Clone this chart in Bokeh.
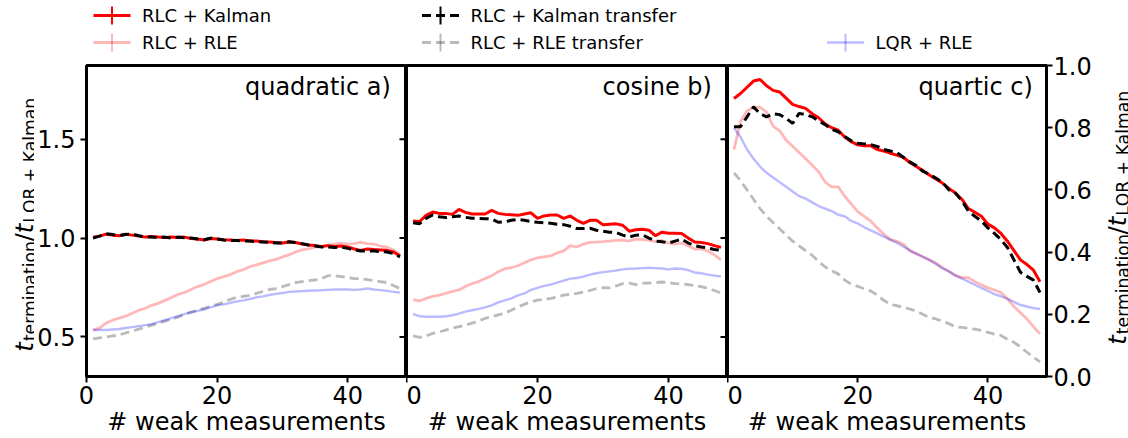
from bokeh.plotting import figure
from bokeh.layouts import row, column
from bokeh.models import Range1d, FixedTicker, Label, PrintfTickFormatter
from bokeh.core.properties import value
from bokeh.embed import file_html
from bokeh.resources import INLINE
import math

# ---------------- data ----------------
n_weak = list(range(1, 49))

quad_rlc_kalman = [1.005, 1.01, 1.02, 1.015, 1.012, 1.02, 1.015, 1.01, 1.005, 1.008, 1.005, 1.003, 1.005, 1.003, 1.005, 0.998,
                   0.995, 0.99, 0.998, 0.995, 0.992, 0.99, 0.988, 0.99, 0.985, 0.985, 0.982, 0.98, 0.978, 0.975, 0.98, 0.978,
                   0.97, 0.965, 0.962, 0.958, 0.962, 0.958, 0.96, 0.955, 0.945, 0.938, 0.945, 0.942, 0.94, 0.938, 0.93, 0.91]
quad_rlc_rle = [0.535, 0.545, 0.57, 0.585, 0.595, 0.605, 0.62, 0.635, 0.645, 0.66, 0.67, 0.685, 0.7, 0.715, 0.725, 0.74,
                0.755, 0.765, 0.78, 0.795, 0.805, 0.815, 0.83, 0.84, 0.855, 0.865, 0.875, 0.885, 0.892, 0.905, 0.915, 0.93,
                0.94, 0.945, 0.955, 0.958, 0.965, 0.97, 0.975, 0.97, 0.972, 0.978, 0.972, 0.97, 0.96, 0.955, 0.94, 0.915]
quad_kalman_transfer = [1.0, 1.01, 1.022, 1.018, 1.012, 1.018, 1.02, 1.012, 1.005, 1.005, 1.003, 1.005, 1.0, 1.005, 1.002, 1.0,
                        0.995, 0.992, 1.0, 0.995, 0.99, 0.988, 0.988, 0.985, 0.985, 0.982, 0.98, 0.978, 0.975, 0.975, 0.982, 0.978,
                        0.972, 0.965, 0.96, 0.955, 0.955, 0.952, 0.955, 0.948, 0.94, 0.935, 0.935, 0.935, 0.932, 0.93, 0.922, 0.905]
quad_rle_transfer = [0.49, 0.495, 0.5, 0.505, 0.51, 0.52, 0.53, 0.54, 0.55, 0.56, 0.57, 0.58, 0.59, 0.6, 0.615, 0.625,
                     0.635, 0.645, 0.655, 0.665, 0.675, 0.69, 0.7, 0.705, 0.71, 0.72, 0.73, 0.74, 0.745, 0.755, 0.765, 0.775,
                     0.78, 0.785, 0.788, 0.795, 0.81, 0.81, 0.805, 0.8, 0.795, 0.795, 0.79, 0.785, 0.78, 0.775, 0.76, 0.745]
quad_lqr_rle = [0.535, 0.535, 0.535, 0.538, 0.54, 0.545, 0.55, 0.555, 0.56, 0.565, 0.575, 0.585, 0.595, 0.605, 0.615, 0.625,
                0.632, 0.64, 0.65, 0.66, 0.665, 0.672, 0.68, 0.685, 0.692, 0.7, 0.705, 0.712, 0.718, 0.722, 0.728, 0.73,
                0.732, 0.734, 0.735, 0.736, 0.738, 0.74, 0.74, 0.74, 0.738, 0.74, 0.745, 0.74, 0.737, 0.733, 0.728, 0.724]

cos_rlc_kalman = [1.087, 1.084, 1.115, 1.132, 1.125, 1.125, 1.12, 1.145, 1.13, 1.122, 1.122, 1.122, 1.14, 1.125, 1.12, 1.118,
                  1.115, 1.122, 1.128, 1.1, 1.112, 1.117, 1.117, 1.1, 1.112, 1.09, 1.075, 1.09, 1.09, 1.068, 1.07, 1.072,
                  1.065, 1.035, 1.042, 1.045, 1.04, 1.012, 1.03, 1.025, 1.025, 1.023, 1.0, 0.98, 0.978, 0.972, 0.962, 0.953]
cos_rlc_rle = [0.689, 0.682, 0.695, 0.705, 0.712, 0.72, 0.73, 0.738, 0.755, 0.77, 0.78, 0.795, 0.81, 0.83, 0.845, 0.85,
               0.86, 0.875, 0.89, 0.9, 0.905, 0.91, 0.925, 0.935, 0.962, 0.955, 0.97, 0.978, 0.98, 0.982, 0.985, 0.988,
               0.99, 0.985, 0.995, 0.993, 0.99, 0.982, 0.988, 0.975, 0.97, 0.975, 0.96, 0.945, 0.945, 0.935, 0.915, 0.89]
cos_kalman_transfer = [1.078, 1.073, 1.1, 1.117, 1.108, 1.104, 1.108, 1.112, 1.105, 1.1, 1.1, 1.098, 1.097, 1.08, 1.082, 1.09,
                       1.095, 1.09, 1.084, 1.08, 1.078, 1.075, 1.07, 1.068, 1.06, 1.048, 1.048, 1.05, 1.04, 1.035, 1.03, 1.028,
                       1.015, 1.005, 1.015, 1.017, 1.0, 0.985, 0.982, 0.975, 0.985, 0.995, 0.975, 0.962, 0.955, 0.95, 0.942, 0.938]
cos_rle_transfer = [0.505, 0.498, 0.505, 0.518, 0.525, 0.535, 0.545, 0.552, 0.56, 0.57, 0.58, 0.594, 0.602, 0.612, 0.62, 0.635,
                    0.652, 0.665, 0.678, 0.686, 0.69, 0.695, 0.702, 0.712, 0.716, 0.72, 0.727, 0.735, 0.745, 0.75, 0.748, 0.758,
                    0.77, 0.772, 0.765, 0.772, 0.772, 0.775, 0.778, 0.775, 0.77, 0.768, 0.765, 0.76, 0.755, 0.745, 0.735, 0.722]
cos_lqr_rle = [0.615, 0.605, 0.602, 0.602, 0.602, 0.605, 0.61, 0.618, 0.628, 0.635, 0.642, 0.65, 0.66, 0.675, 0.685, 0.695,
               0.71, 0.72, 0.738, 0.748, 0.758, 0.765, 0.775, 0.785, 0.795, 0.798, 0.805, 0.815, 0.822, 0.828, 0.832, 0.836,
               0.842, 0.845, 0.846, 0.848, 0.85, 0.848, 0.846, 0.842, 0.846, 0.845, 0.838, 0.826, 0.822, 0.815, 0.81, 0.806]

quart_rlc_kalman = [0.894, 0.91, 0.93, 0.95, 0.955, 0.935, 0.92, 0.915, 0.895, 0.875, 0.868, 0.862, 0.845, 0.832, 0.812, 0.8,
                    0.792, 0.77, 0.755, 0.745, 0.742, 0.742, 0.73, 0.725, 0.718, 0.712, 0.705, 0.688, 0.675, 0.662, 0.648, 0.635,
                    0.622, 0.605, 0.59, 0.57, 0.54, 0.528, 0.515, 0.49, 0.478, 0.46, 0.435, 0.405, 0.375, 0.36, 0.342, 0.305]
quart_rlc_rle = [0.73, 0.82, 0.855, 0.864, 0.866, 0.85, 0.805, 0.79, 0.76, 0.74, 0.72, 0.7, 0.68, 0.658, 0.625, 0.61,
                 0.61, 0.58, 0.555, 0.53, 0.515, 0.5, 0.478, 0.458, 0.44, 0.435, 0.425, 0.405, 0.395, 0.385, 0.375, 0.365,
                 0.35, 0.338, 0.325, 0.318, 0.318, 0.305, 0.295, 0.285, 0.278, 0.27, 0.25, 0.225, 0.205, 0.185, 0.16, 0.137]
quart_kalman_transfer = [0.803, 0.803, 0.835, 0.867, 0.845, 0.835, 0.845, 0.842, 0.83, 0.814, 0.846, 0.842, 0.835, 0.822, 0.81, 0.795,
                         0.787, 0.772, 0.758, 0.75, 0.748, 0.745, 0.74, 0.73, 0.725, 0.72, 0.705, 0.69, 0.678, 0.66, 0.65, 0.638,
                         0.625, 0.6, 0.59, 0.565, 0.532, 0.515, 0.5, 0.478, 0.46, 0.44, 0.415, 0.375, 0.335, 0.322, 0.31, 0.27]
quart_rle_transfer = [0.655, 0.63, 0.6, 0.57, 0.54, 0.515, 0.495, 0.475, 0.455, 0.435, 0.42, 0.405, 0.39, 0.37, 0.352, 0.34,
                      0.33, 0.31, 0.297, 0.29, 0.282, 0.275, 0.262, 0.245, 0.232, 0.228, 0.222, 0.217, 0.21, 0.2, 0.19, 0.185,
                      0.178, 0.17, 0.16, 0.158, 0.155, 0.152, 0.148, 0.142, 0.136, 0.132, 0.12, 0.11, 0.095, 0.078, 0.062, 0.047]
quart_lqr_rle = [0.8, 0.77, 0.73, 0.7, 0.675, 0.655, 0.64, 0.625, 0.61, 0.595, 0.58, 0.572, 0.56, 0.548, 0.54, 0.532,
                 0.52, 0.515, 0.5, 0.492, 0.48, 0.47, 0.46, 0.45, 0.44, 0.43, 0.418, 0.405, 0.395, 0.385, 0.375, 0.362,
                 0.348, 0.338, 0.325, 0.315, 0.305, 0.295, 0.285, 0.275, 0.265, 0.258, 0.25, 0.24, 0.23, 0.225, 0.22, 0.217]

series_names = ["RLC + Kalman", "RLC + RLE", "RLC + Kalman transfer", "RLC + RLE transfer", "LQR + RLE"]
panel_titles = ["quadratic  a)", "cosine  b)", "quartic  c)"]
x_ticks = [0, 20, 40]
left_y_ticks = [0.5, 1.0, 1.5]
right_y_ticks = [0.0, 0.2, 0.4, 0.6, 0.8, 1.0]
x_label = "# weak measurements"
y_label_parts = ["t", "termination", "/", "t", "LQR + Kalman"]

panel_data = [
    [quad_rlc_kalman, quad_rlc_rle, quad_kalman_transfer, quad_rle_transfer, quad_lqr_rle],
    [cos_rlc_kalman, cos_rlc_rle, cos_kalman_transfer, cos_rle_transfer, cos_lqr_rle],
    [quart_rlc_kalman, quart_rlc_rle, quart_kalman_transfer, quart_rle_transfer, quart_lqr_rle],
]

# ---------------- styles / layout ----------------
FONT = "DejaVu Sans"
styles = [
    dict(color="#ff0000", alpha=1.0, dash="solid", width=3.0),
    dict(color="#ff0000", alpha=0.28, dash="solid", width=2.8),
    dict(color="#000000", alpha=1.0, dash="9 5", width=3.0),
    dict(color="#000000", alpha=0.27, dash="9 5", width=2.8),
    dict(color="#0000ff", alpha=0.27, dash="solid", width=2.4),
]

W_TOTAL, H_TOTAL = 1128, 438
HEADER_H = 53
TOP, FH = 12, 313
PANEL_H = H_TOTAL - HEADER_H
BOTTOM = PANEL_H - TOP - FH
FRAME_BOTTOM = HEADER_H + TOP + FH      # page y of the frames' lower edge
YLAB_L_W = 34
A_LEFT = 86 - YLAB_L_W
C_RIGHT = 46
FW = [320, 321, 321]
PW = [A_LEFT + FW[0], FW[1], FW[2] + C_RIGHT]
YLAB_R_W = W_TOTAL - YLAB_L_W - sum(PW)

x_range = Range1d(0, 49)
y_range_ab = Range1d(0.3, 1.873)
y_range_c = Range1d(0.0, 1.0)


def blank_fig(w, h, y_range):
    f = figure(width=w, height=h, x_range=Range1d(0, w), y_range=y_range,
               output_backend="svg", toolbar_location=None, min_border=0)
    f.axis.visible = False
    f.xgrid.visible = False
    f.ygrid.visible = False
    f.outline_line_color = None
    f.background_fill_color = "white"
    f.border_fill_color = "white"
    return f


def style_axis(ax):
    ax.axis_line_color = None
    ax.major_tick_line_color = "black"
    ax.major_tick_line_width = 2
    ax.minor_tick_line_color = None
    ax.major_tick_out = 6
    ax.major_tick_in = 0
    ax.major_label_text_font = FONT
    ax.major_label_text_color = "black"
    ax.major_label_text_font_size = "24px"
    ax.axis_label_standoff = 0


def make_panel(i):
    common = dict(width=PW[i], height=PANEL_H, x_range=x_range,
                  output_backend="svg", toolbar_location=None,
                  min_border_top=TOP, min_border_bottom=BOTTOM)
    if i == 0:
        p = figure(y_range=y_range_ab, y_axis_location="left",
                   min_border_left=A_LEFT, min_border_right=0, **common)
    elif i == 1:
        p = figure(y_range=y_range_ab, y_axis_location=None,
                   min_border_left=0, min_border_right=0, **common)
    else:
        p = figure(y_range=y_range_c, y_axis_location="right",
                   min_border_left=0, min_border_right=C_RIGHT, **common)
    p.xgrid.visible = False
    p.ygrid.visible = False
    p.outline_line_color = "black"
    p.outline_line_width = 3
    p.background_fill_color = "white"
    p.border_fill_color = "white"

    for ax in p.xaxis:
        ax.ticker = FixedTicker(ticks=x_ticks)
        style_axis(ax)
        ax.major_label_standoff = 3
        ax.axis_label = x_label
        ax.axis_label_text_font = FONT
        ax.axis_label_text_font_size = "24px"
        ax.axis_label_text_font_style = "normal"
        ax.axis_label_text_color = "black"
        ax.axis_label_standoff = 1
    if i == 0:
        for ax in p.yaxis:
            ax.ticker = FixedTicker(ticks=left_y_ticks)
            ax.formatter = PrintfTickFormatter(format="%.1f")
            style_axis(ax)
            ax.major_label_standoff = 5
    if i in (0, 1):
        # inward tick marks on the shared right spine
        p.ray(x=[x_range.end] * len(left_y_ticks), y=left_y_ticks, length=7, length_units="screen",
              angle=math.pi, line_color="black", line_width=2)
    if i == 2:
        for ax in p.yaxis:
            ax.ticker = FixedTicker(ticks=right_y_ticks)
            ax.formatter = PrintfTickFormatter(format="%.1f")
            style_axis(ax)
            ax.major_label_standoff = 1

    for data, st in zip(panel_data[i], styles):
        p.line(n_weak, data, line_color=st["color"], line_alpha=st["alpha"],
               line_dash=st["dash"], line_width=st["width"])

    p.add_layout(Label(x=FW[i] - 8, y=FH - 9, x_units="screen", y_units="screen", text=panel_titles[i],
                       text_font=FONT, text_font_size="24px", text_align="right", text_baseline="top",
                       text_color="black"))
    return p


def draw_ylabel(f, base_x, start_y):
    main, sub = 24.5, 17.2
    sizes = [main, sub, main, main, sub]
    styles_ = ["italic", "normal", "normal", "italic", "normal"]
    shifts = [0, 5, 0, 0, 5]
    widths = [0.392 * main + 1, 5.833 * sub, 0.337 * main, 0.392 * main + 1, 7.28 * sub]
    y = start_y
    for txt, size, stl, sh, w in zip(y_label_parts, sizes, styles_, shifts, widths):
        f.text([base_x + sh], [y], text=[txt], angle=math.pi / 2, text_font=value(FONT),
               text_font_size=f"{size}px", text_font_style=stl, text_align="left",
               text_baseline="alphabetic", text_color="black")
        y += w


pa = make_panel(0)
pb = make_panel(1)
pc = make_panel(2)

# label strips: their frames are aligned with the panels' frames (page y 65..378),
# so a range of 0..FH gives one unit per pixel measured up from the frame bottom
ylab_l = blank_fig(YLAB_L_W, PANEL_H, Range1d(0, FH))
draw_ylabel(ylab_l, 24, FRAME_BOTTOM - 353)
ylab_r = blank_fig(YLAB_R_W, PANEL_H, Range1d(0, FH))
draw_ylabel(ylab_r, 1117 - (W_TOTAL - YLAB_R_W), FRAME_BOTTOM - 346)

hdr = blank_fig(W_TOTAL, HEADER_H, Range1d(HEADER_H, 0))
legend_centers = [(111.5, 15), (111.5, 42), (440, 15), (440, 42), (845, 42)]
for (cx, cy), st, name in zip(legend_centers, styles, series_names):
    hdr.line([cx - 18.5, cx + 18.5], [cy, cy], line_color=st["color"], line_alpha=st["alpha"],
             line_dash=st["dash"], line_width=st["width"])
    hdr.line([cx, cx], [cy - 9, cy + 9], line_color=st["color"], line_alpha=st["alpha"], line_width=2)
    hdr.text([cx + 30], [cy], text=[name], text_font=value(FONT), text_font_size="18px",
             text_baseline="middle", text_align="left", text_color="black")

layout = column(hdr, row(ylab_l, pa, pb, pc, ylab_r))
open("out.html", "w").write(file_html(layout, INLINE))
